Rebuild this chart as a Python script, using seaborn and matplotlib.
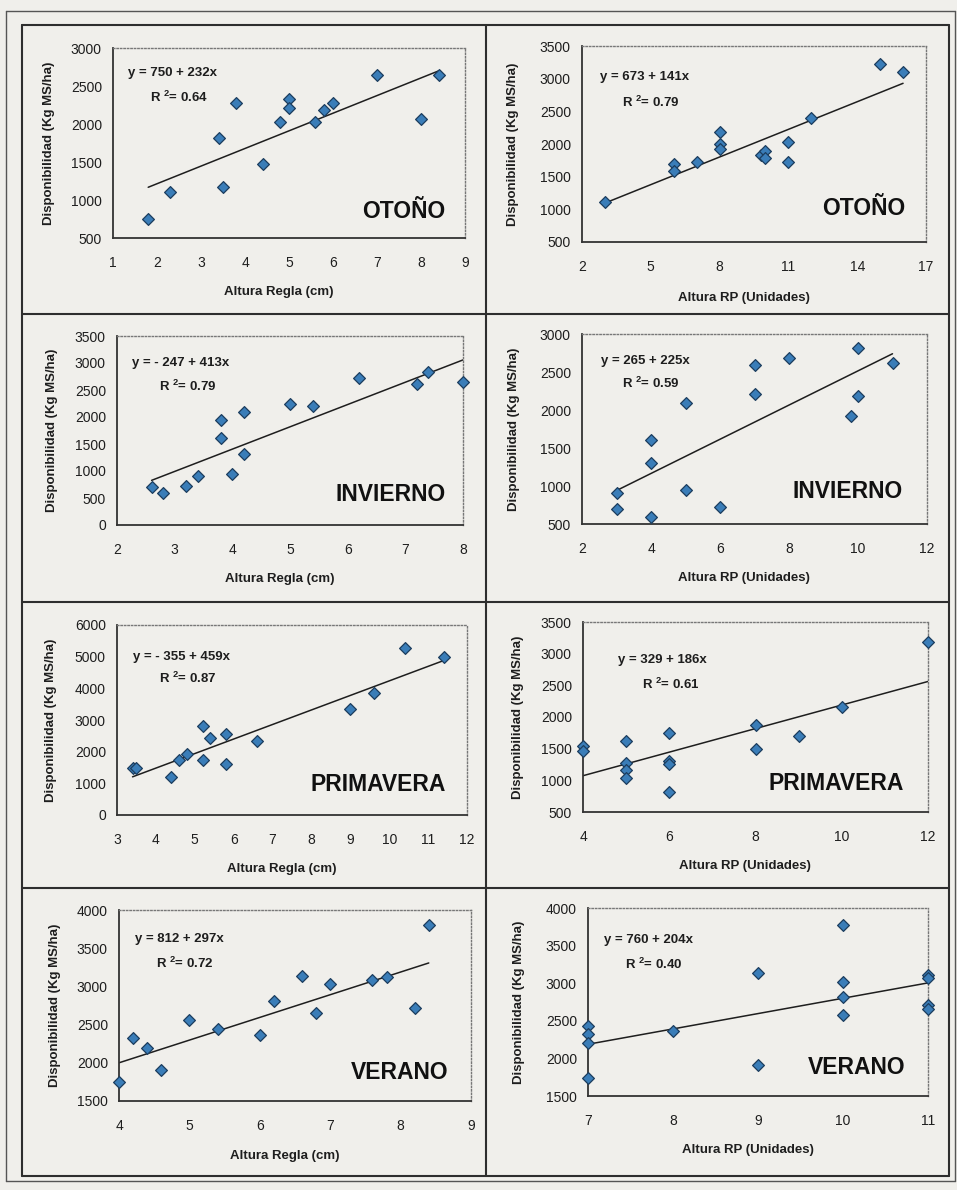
import matplotlib
matplotlib.use("Agg")
import matplotlib.pyplot as plt
import seaborn as sns
import pandas as pd
from matplotlib.lines import Line2D

sns.set_theme(style="white")
plt.rcParams["font.family"] = ["Liberation Sans", "DejaVu Sans"]
plt.rcParams["mathtext.default"] = "regular"

W, H = 957, 1190
PAPER = "#f0efeb"
INK = "#1e1e1e"
FILL = "#3a7db8"
EDGE = "#1c3d5e"

# ---- data: Disponibilidad (kg MS/ha) vs. altura ----
# Otoño
oto_regla_x = [1.8, 2.3, 3.4, 3.5, 3.8, 4.4, 4.8, 5.0, 5.0, 5.6, 5.8, 6.0, 7.0, 8.0, 8.4]
oto_regla_y = [750, 1110, 1810, 1170, 2270, 1480, 2020, 2330, 2210, 2020, 2180, 2280, 2650, 2070, 2650]
oto_rp_x = [3, 6, 6, 7, 8, 8, 8, 9.8, 10, 10, 11, 11, 12, 15, 16]
oto_rp_y = [1110, 1690, 1580, 1730, 2180, 2000, 1920, 1830, 1890, 1790, 2030, 1730, 2400, 3230, 3100]
# Invierno
inv_regla_x = [2.6, 2.8, 3.2, 3.4, 3.8, 3.8, 4.0, 4.2, 4.2, 5.0, 5.4, 6.2, 7.2, 7.4, 8.0]
inv_regla_y = [700, 590, 720, 910, 1940, 1620, 940, 2100, 1310, 2240, 2210, 2730, 2620, 2830, 2650]
inv_rp_x = [3, 3, 4, 4, 4, 5, 5, 6, 7, 7, 8, 9.8, 10, 10, 11]
inv_rp_y = [910, 700, 1600, 1300, 590, 2090, 950, 720, 2590, 2210, 2690, 1920, 2810, 2180, 2620]
# Primavera
pri_regla_x = [3.4, 3.5, 4.4, 4.6, 4.8, 5.2, 5.2, 5.4, 5.8, 5.8, 6.6, 9.0, 9.6, 10.4, 11.4]
pri_regla_y = [1500, 1500, 1200, 1750, 1930, 2820, 1750, 2430, 2560, 1620, 2340, 3360, 3860, 5280, 4980]
pri_rp_x = [4, 4, 5, 5, 5, 5, 6, 6, 6, 6, 8, 8, 9, 10, 12]
pri_rp_y = [1550, 1460, 1620, 1280, 1170, 1030, 1750, 1300, 1260, 820, 1870, 1500, 1700, 2160, 3180]
# Verano
ver_regla_x = [4.0, 4.2, 4.4, 4.6, 5.0, 5.4, 6.0, 6.2, 6.6, 6.8, 7.0, 7.6, 7.8, 8.2, 8.4]
ver_regla_y = [1750, 2330, 2200, 1900, 2560, 2440, 2370, 2810, 3140, 2650, 3030, 3090, 3120, 2720, 3800]
ver_rp_x = [7, 7, 7, 7, 8, 9, 9, 10, 10, 10, 10, 11, 11, 11, 11]
ver_rp_y = [2430, 2330, 2200, 1740, 2360, 3130, 1910, 3770, 3020, 2820, 2580, 3110, 3070, 2710, 2660]

# fitted equations (intercept, slope, R²)
seasons = ["OTOÑO", "OTOÑO", "INVIERNO", "INVIERNO", "PRIMAVERA", "PRIMAVERA", "VERANO", "VERANO"]
intercepts = [750, 673, -247, 265, -355, 329, 812, 760]
slopes = [232, 141, 413, 225, 459, 186, 297, 204]
r2_values = ["0.64", "0.79", "0.79", "0.59", "0.87", "0.61", "0.72", "0.40"]

xlabels = ["Altura Regla (cm)", "Altura RP (Unidades)"] * 4
ylabel = "Disponibilidad (Kg MS/ha)"

xticks = [
    [1, 2, 3, 4, 5, 6, 7, 8, 9],
    [2, 5, 8, 11, 14, 17],
    [2, 3, 4, 5, 6, 7, 8],
    [2, 4, 6, 8, 10, 12],
    [3, 4, 5, 6, 7, 8, 9, 10, 11, 12],
    [4, 6, 8, 10, 12],
    [4, 5, 6, 7, 8, 9],
    [7, 8, 9, 10, 11],
]
yticks = [
    [500, 1000, 1500, 2000, 2500, 3000],
    [500, 1000, 1500, 2000, 2500, 3000, 3500],
    [0, 500, 1000, 1500, 2000, 2500, 3000, 3500],
    [500, 1000, 1500, 2000, 2500, 3000],
    [0, 1000, 2000, 3000, 4000, 5000, 6000],
    [500, 1000, 1500, 2000, 2500, 3000, 3500],
    [1500, 2000, 2500, 3000, 3500, 4000],
    [1500, 2000, 2500, 3000, 3500, 4000],
]

xs = [oto_regla_x, oto_rp_x, inv_regla_x, inv_rp_x, pri_regla_x, pri_rp_x, ver_regla_x, ver_rp_x]
ys = [oto_regla_y, oto_rp_y, inv_regla_y, inv_rp_y, pri_regla_y, pri_rp_y, ver_regla_y, ver_rp_y]

# ---- layout (pixel boxes: left, top, right, bottom) ----
boxes = [
    (113, 48, 465, 238), (582, 46, 926, 242),
    (117, 336, 463, 525), (582, 334, 927, 524),
    (117, 625, 467, 815), (583, 622, 928, 812),
    (119, 910, 471, 1101), (588, 908, 928, 1096),
]
eq_pos = [(0.043, 0.87), (0.052, 0.84), (0.043, 0.857), (0.055, 0.86),
          (0.046, 0.83), (0.10, 0.80), (0.045, 0.85), (0.047, 0.83)]
r2_pos = [(0.105, 0.74), (0.116, 0.71), (0.12, 0.735), (0.116, 0.74),
          (0.12, 0.72), (0.17, 0.67), (0.105, 0.72), (0.11, 0.70)]
season_pos = [(0.943, 0.137), (0.94, 0.17), (0.95, 0.16), (0.93, 0.17),
              (0.94, 0.16), (0.93, 0.15), (0.935, 0.15), (0.935, 0.15)]
ylab_x = [-0.165, -0.183, -0.17, -0.18, -0.17, -0.17, -0.165, -0.185]

fig = plt.figure(figsize=(W / 100, H / 100), dpi=100, facecolor=PAPER)


def fig_line(x0, y0, x1, y1, lw=1.3, color="#3a3a3a"):
    fig.add_artist(Line2D([x0 / W, x1 / W], [1 - y0 / H, 1 - y1 / H],
                          transform=fig.transFigure, color=color, lw=lw))


# outer frame and cell grid
for (a, b, c, d) in [(6, 11, 955, 11), (6, 1181, 955, 1181), (6, 11, 6, 1181), (955, 11, 955, 1181)]:
    fig_line(a, b, c, d, lw=1.0, color="#555555")
for (a, b, c, d) in [(22, 25, 949, 25), (22, 1176, 949, 1176), (22, 25, 22, 1176),
                     (949, 25, 949, 1176), (486, 25, 486, 1176),
                     (22, 314, 949, 314), (22, 602, 949, 602), (22, 888, 949, 888)]:
    fig_line(a, b, c, d, lw=1.5, color="#2e2e2e")

for i in range(8):
    l, t, r, b = boxes[i]
    ax = fig.add_axes([l / W, 1 - b / H, (r - l) / W, (b - t) / H])
    ax.set_facecolor("none")

    df = pd.DataFrame({"x": xs[i], "y": ys[i]})
    x0, x1 = min(xs[i]), max(xs[i])
    fit = pd.DataFrame({"x": [x0, x1],
                        "y": [intercepts[i] + slopes[i] * x0, intercepts[i] + slopes[i] * x1]})
    sns.lineplot(data=fit, x="x", y="y", ax=ax, color=INK, lw=1.1, zorder=2)
    sns.scatterplot(data=df, x="x", y="y", ax=ax, marker="D", s=36, color=FILL,
                    edgecolor=EDGE, linewidth=0.9, zorder=3, clip_on=False)

    ax.set_xlim(xticks[i][0], xticks[i][-1])
    ax.set_ylim(yticks[i][0], yticks[i][-1])
    ax.set_xticks(xticks[i])
    ax.set_yticks(yticks[i])
    ax.tick_params(axis="both", direction="inout", length=6, width=1.0,
                   color="#333333", labelsize=10, labelcolor=INK)
    ax.tick_params(axis="x", pad=10)
    ax.tick_params(axis="y", pad=5)

    for side in ("left", "bottom"):
        ax.spines[side].set_color("#333333")
        ax.spines[side].set_linewidth(1.3)
    for side in ("top", "right"):
        ax.spines[side].set_color("#777777")
        ax.spines[side].set_linewidth(1.0)
        ax.spines[side].set_linestyle((0, (1, 1.5)))

    ax.set_xlabel(xlabels[i], fontsize=9.5, fontweight="bold", color=INK)
    ax.set_ylabel(ylabel, fontsize=9.5, fontweight="bold", color=INK)
    ax.xaxis.set_label_coords(0.47, -0.255)
    ax.yaxis.set_label_coords(ylab_x[i], 0.5)

    a = intercepts[i]
    sign = f"- {abs(a)}" if a < 0 else f"{a}"
    ax.text(*eq_pos[i], f"y = {sign} + {slopes[i]}x", transform=ax.transAxes,
            fontsize=9.5, fontweight="bold", color=INK, ha="left", va="center")
    ax.text(*r2_pos[i], f"R $^{{2}}$= {r2_values[i]}", transform=ax.transAxes,
            fontsize=9.5, fontweight="bold", color=INK, ha="left", va="center")
    ax.text(*season_pos[i], seasons[i], transform=ax.transAxes,
            fontsize=16.5, fontweight="bold", color="#111111", ha="right", va="center")

fig.savefig("out.png", dpi=100, facecolor=PAPER)
